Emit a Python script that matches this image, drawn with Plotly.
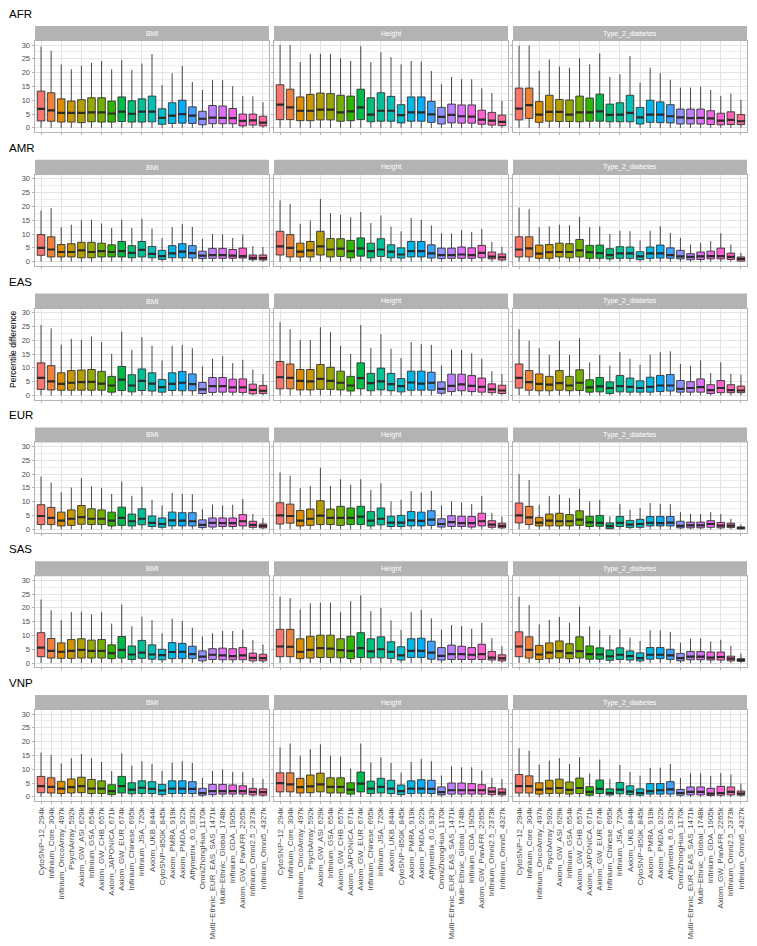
import math
import plotly.graph_objects as go

# array names along the x axis (same order in every panel)
ARRAYS = ["CytoSNP−12_294k", "Infinium_Core_304k", "Infinium_OncoArray_497k", "PsychArray_592k",
          "Axiom_GW_ASI_629k", "Infinium_GSA_654k", "Axiom_GW_CHB_657k", "Axiom_JAPONICA_671k",
          "Axiom_GW_EUR_674k", "Infinium_Chinese_695k", "Infinium_JSA_720k", "Axiom_UKB_844k",
          "CytoSNP−850K_845k", "Axiom_PMRA_919k", "Axiom_PMDA_922k", "Affymetrix_6.0_932k",
          "OmniZhongHua_1170k", "Multi−Ethnic_EUR_EAS_SAS_1471k", "Multi−Ethnic_Global_1748k",
          "Infinium_GDA_1905k", "Axiom_GW_PanAFR_2265k", "Infinium_Omni2.5_2373k", "Infinium_Omni5_4327k"]
ANCESTRIES = ["AFR", "AMR", "EAS", "EUR", "SAS", "VNP"]
TRAITS = ["BMI", "Height", "Type_2_diabetes"]

LOWER = [0.0, 0.0, 0.0, 0.0, 0.0, 0.0, 0.0, 0.0, 0.0, 0.0, 0.0, 0.0,
         0.0, 0.0, 0.0, 0.0, 0.0, 0.0, 0.0, 0.0, 0.0, 0.0, 0.0]

AFR_BMI = dict(
    q1=[2.5, 2.4, 2.1, 2.1, 1.9, 2.2, 2.1, 2.1, 2.3, 2.1, 2.1, 2.2, 1.3, 1.6, 1.7, 1.6, 1.1, 1.5, 1.5, 1.5, 0.7, 1.0, 0.7],
    med=[6.9, 6.3, 5.4, 5.4, 5.4, 5.6, 5.6, 5.2, 5.9, 5.1, 5.9, 5.9, 3.6, 4.4, 5.0, 4.4, 3.3, 3.7, 3.6, 3.5, 2.5, 2.7, 1.9],
    q3=[13.3, 12.7, 10.5, 9.7, 10.2, 10.9, 10.9, 9.7, 11.2, 9.8, 10.5, 11.5, 6.9, 9.1, 10.0, 7.6, 6.0, 8.1, 7.9, 7.0, 5.0, 5.0, 4.2],
    hi=[29.4, 27.9, 23.0, 21.2, 22.5, 23.5, 24.2, 21.2, 24.5, 21.0, 23.3, 26.7, 15.5, 19.8, 22.4, 16.6, 13.7, 17.3, 17.3, 15.1, 11.5, 11.4, 9.3])
AFR_HEIGHT = dict(
    q1=[3.0, 3.0, 2.6, 2.6, 2.9, 2.9, 2.4, 2.6, 3.0, 2.2, 2.4, 2.4, 1.8, 2.4, 2.4, 2.0, 1.4, 1.8, 1.7, 1.7, 1.3, 1.0, 0.8],
    med=[8.4, 7.4, 6.2, 6.2, 6.6, 6.6, 5.6, 6.0, 7.4, 4.8, 6.2, 6.2, 4.6, 5.6, 5.6, 4.9, 4.0, 4.7, 4.2, 4.1, 3.0, 2.6, 2.2],
    q3=[15.6, 14.0, 11.2, 12.1, 12.6, 12.4, 11.8, 11.5, 14.0, 10.9, 12.7, 11.4, 8.4, 11.2, 11.2, 9.6, 7.4, 8.6, 8.3, 8.3, 6.4, 5.6, 4.6],
    hi=[30.0, 30.0, 23.8, 26.8, 26.8, 26.8, 25.2, 24.2, 29.6, 23.8, 27.4, 25.6, 23.0, 24.2, 24.0, 20.6, 15.8, 18.4, 17.6, 17.6, 14.3, 12.6, 9.8])
AFR_T2D = dict(
    q1=[2.9, 3.4, 2.0, 2.4, 2.3, 2.3, 2.2, 2.4, 2.4, 2.2, 2.2, 2.2, 1.4, 2.0, 1.9, 1.8, 1.4, 1.4, 1.4, 1.2, 1.1, 1.2, 1.2],
    med=[7.0, 8.2, 4.8, 5.8, 5.8, 4.8, 5.6, 5.6, 6.0, 4.7, 4.8, 5.4, 3.8, 4.8, 4.8, 4.2, 3.8, 3.5, 3.6, 3.4, 2.6, 2.9, 2.4],
    q3=[14.4, 14.4, 9.5, 11.8, 10.3, 10.1, 11.5, 10.8, 12.2, 8.6, 9.1, 11.8, 7.4, 10.0, 9.4, 8.4, 6.8, 6.8, 6.8, 6.2, 5.3, 5.8, 4.8],
    hi=[29.8, 29.8, 20.6, 24.8, 22.2, 21.8, 25.2, 23.0, 27.0, 18.4, 19.4, 26.0, 16.4, 21.8, 19.8, 17.4, 14.6, 14.6, 14.9, 13.7, 11.6, 12.4, 10.2])

AMR_BMI = dict(
    q1=[2.3, 1.7, 1.7, 1.7, 1.4, 1.4, 1.7, 1.7, 1.7, 1.4, 1.7, 1.4, 0.8, 1.4, 1.4, 1.3, 1.1, 1.2, 1.2, 1.2, 1.3, 0.7, 0.6],
    med=[5.0, 4.4, 3.5, 3.5, 4.1, 3.5, 3.8, 3.5, 3.8, 3.2, 4.3, 2.8, 2.0, 3.0, 3.6, 3.1, 2.2, 2.4, 2.4, 2.2, 2.0, 1.4, 1.3],
    q3=[9.8, 9.0, 6.2, 6.5, 7.0, 7.0, 6.7, 6.1, 7.3, 5.8, 7.3, 5.5, 4.1, 5.8, 6.5, 5.8, 3.8, 4.8, 4.8, 4.4, 4.9, 2.4, 2.4],
    hi=[18.5, 19.4, 12.5, 13.4, 15.0, 15.2, 13.8, 12.2, 15.2, 12.2, 15.6, 12.0, 8.5, 12.5, 13.6, 12.6, 8.2, 10.0, 9.8, 8.6, 9.8, 5.6, 5.3])
AMR_HEIGHT = dict(
    q1=[2.4, 1.7, 1.7, 1.7, 2.4, 1.7, 1.9, 1.4, 2.0, 1.4, 1.9, 1.4, 1.3, 1.7, 1.7, 1.3, 1.1, 1.2, 1.2, 1.2, 1.4, 1.0, 0.6],
    med=[5.5, 5.0, 3.6, 4.1, 5.5, 4.4, 4.7, 3.8, 4.8, 3.8, 4.4, 3.6, 2.6, 3.8, 3.8, 3.0, 2.4, 2.4, 2.6, 2.4, 3.2, 1.8, 1.6],
    q3=[11.0, 9.8, 6.7, 7.3, 11.0, 8.4, 8.3, 7.7, 8.6, 6.7, 8.3, 6.1, 5.0, 7.3, 7.3, 6.1, 4.9, 4.9, 5.3, 5.0, 5.9, 3.5, 2.8],
    hi=[22.2, 20.9, 13.7, 14.9, 22.7, 17.6, 17.0, 16.1, 18.0, 14.0, 16.7, 12.7, 11.0, 15.8, 15.2, 13.1, 10.3, 10.2, 11.4, 10.8, 11.9, 7.2, 5.4])
AMR_T2D = dict(
    q1=[1.7, 1.7, 1.2, 1.2, 1.7, 1.4, 1.7, 1.2, 1.2, 1.0, 1.2, 1.2, 0.7, 1.2, 1.3, 1.2, 1.0, 0.7, 0.8, 1.0, 1.0, 0.8, 0.2],
    med=[4.4, 4.8, 2.9, 3.4, 3.5, 3.5, 4.1, 3.4, 3.1, 2.4, 3.0, 3.0, 1.9, 3.0, 3.0, 2.4, 1.9, 1.7, 1.9, 2.0, 2.0, 1.7, 1.0],
    q3=[9.0, 9.0, 6.0, 6.2, 6.7, 6.5, 8.0, 5.9, 6.0, 4.7, 5.4, 5.3, 3.6, 5.3, 6.0, 5.0, 4.1, 2.9, 3.5, 3.8, 4.9, 3.1, 1.7],
    hi=[19.6, 19.0, 12.5, 12.8, 13.4, 13.2, 16.2, 12.5, 12.8, 10.0, 11.2, 11.0, 7.7, 11.2, 12.8, 10.4, 8.6, 6.2, 6.8, 7.4, 10.3, 6.2, 3.2])

EAS_BMI = dict(
    q1=[2.2, 2.0, 1.9, 1.9, 1.9, 1.9, 1.9, 1.2, 1.8, 1.3, 1.8, 1.6, 1.2, 1.8, 1.7, 1.7, 0.7, 1.1, 1.2, 1.2, 1.1, 0.6, 0.7],
    med=[6.4, 5.1, 4.2, 4.6, 4.8, 4.9, 4.3, 3.6, 5.7, 3.6, 5.3, 4.3, 3.0, 4.2, 4.6, 4.1, 2.2, 3.4, 3.4, 2.9, 2.9, 2.0, 1.7],
    q3=[11.8, 10.8, 8.2, 9.0, 9.2, 9.4, 8.7, 6.9, 10.5, 7.5, 9.6, 8.2, 5.8, 8.2, 8.7, 7.8, 4.7, 6.5, 6.5, 5.9, 6.0, 4.1, 3.6],
    hi=[25.5, 24.3, 18.4, 20.5, 20.1, 21.3, 19.3, 15.1, 23.1, 16.5, 21.1, 18.0, 12.7, 18.0, 18.3, 17.1, 10.5, 13.3, 14.2, 11.7, 12.9, 9.4, 7.7])
EAS_HEIGHT = dict(
    q1=[2.4, 2.4, 2.0, 2.0, 2.2, 2.2, 2.0, 1.6, 2.4, 1.7, 2.0, 1.7, 1.3, 1.9, 1.9, 1.9, 0.8, 1.4, 1.7, 1.4, 1.2, 1.0, 0.7],
    med=[6.6, 6.4, 5.3, 5.1, 6.0, 5.3, 4.6, 3.6, 6.3, 4.5, 5.1, 4.1, 3.4, 4.7, 4.3, 4.6, 2.4, 3.5, 4.0, 3.5, 3.1, 2.2, 1.8],
    q3=[12.3, 11.4, 9.4, 9.4, 11.2, 10.2, 8.8, 6.9, 11.8, 8.0, 9.9, 8.0, 6.1, 8.8, 8.8, 8.4, 4.9, 7.7, 7.7, 7.2, 6.3, 4.2, 3.7],
    hi=[26.5, 24.0, 20.1, 20.1, 24.7, 22.9, 18.0, 15.1, 25.5, 17.2, 22.2, 16.9, 13.6, 19.3, 18.6, 18.3, 10.8, 16.6, 16.5, 15.3, 13.3, 8.8, 7.8])
EAS_T2D = dict(
    q1=[2.7, 1.9, 1.7, 1.7, 1.9, 1.7, 1.8, 1.2, 1.3, 0.7, 1.3, 1.2, 1.2, 1.2, 1.4, 1.6, 1.2, 1.2, 1.2, 0.7, 1.0, 1.0, 1.0],
    med=[6.4, 4.8, 4.2, 3.9, 4.5, 3.6, 4.6, 2.9, 3.3, 2.7, 3.4, 3.1, 2.7, 3.1, 3.6, 3.6, 2.4, 2.7, 3.0, 1.9, 2.7, 1.9, 1.8],
    q3=[11.4, 9.0, 7.8, 6.9, 9.0, 6.9, 9.3, 5.7, 6.5, 4.9, 7.2, 6.3, 5.3, 6.6, 7.2, 7.6, 5.4, 5.0, 6.0, 3.9, 5.4, 3.9, 3.4],
    hi=[24.0, 19.8, 17.1, 14.7, 19.8, 14.7, 20.7, 12.0, 14.7, 10.8, 15.7, 13.3, 11.1, 14.8, 15.7, 16.0, 11.4, 10.8, 12.7, 8.1, 12.0, 7.8, 7.5])

EUR_BMI = dict(
    q1=[1.7, 1.7, 1.2, 1.4, 1.8, 1.7, 1.7, 1.2, 1.4, 1.2, 1.6, 1.0, 0.7, 1.2, 1.2, 1.2, 0.6, 0.8, 1.0, 1.0, 1.2, 0.7, 0.5],
    med=[4.8, 4.1, 3.1, 3.8, 4.4, 3.8, 3.8, 3.1, 4.1, 2.9, 3.8, 2.3, 1.9, 3.2, 3.1, 2.9, 1.6, 2.3, 2.2, 2.2, 2.9, 1.6, 1.2],
    q3=[8.9, 7.9, 6.2, 7.0, 8.6, 7.4, 7.0, 6.2, 8.0, 5.5, 7.4, 4.8, 4.1, 6.2, 6.0, 6.0, 3.4, 4.1, 4.1, 4.1, 5.3, 2.9, 1.9],
    hi=[19.1, 16.9, 13.4, 15.1, 18.5, 15.5, 14.9, 12.8, 17.3, 12.1, 15.4, 10.7, 8.6, 13.2, 12.8, 12.7, 7.3, 8.9, 8.6, 8.9, 11.0, 5.5, 4.1])
EUR_HEIGHT = dict(
    q1=[1.9, 2.2, 1.2, 1.4, 1.7, 1.7, 1.4, 1.7, 1.7, 1.2, 1.6, 1.0, 1.0, 1.2, 1.2, 1.4, 0.8, 1.0, 1.0, 0.8, 1.2, 0.7, 0.5],
    med=[5.0, 4.8, 3.1, 3.8, 4.9, 4.1, 4.1, 4.1, 4.6, 3.1, 3.8, 2.4, 2.4, 3.2, 3.0, 3.5, 1.9, 2.6, 2.2, 2.2, 2.9, 1.7, 1.2],
    q3=[9.6, 9.1, 6.8, 7.3, 10.3, 7.3, 8.3, 7.7, 8.3, 6.4, 7.7, 4.7, 5.0, 6.4, 6.2, 6.7, 3.8, 4.9, 4.7, 4.6, 5.8, 3.1, 2.2],
    hi=[20.6, 19.4, 14.9, 15.7, 22.3, 15.7, 18.1, 16.1, 18.1, 14.2, 16.7, 10.1, 10.7, 13.8, 13.3, 13.9, 8.6, 10.1, 9.7, 9.1, 12.1, 5.9, 4.6])
EUR_T2D = dict(
    q1=[2.3, 1.7, 1.2, 1.2, 1.2, 1.2, 1.4, 1.0, 1.1, 0.2, 1.0, 0.6, 0.7, 1.2, 1.2, 1.2, 0.5, 0.5, 0.5, 0.7, 0.5, 0.6, 0.1],
    med=[5.0, 4.3, 2.4, 3.1, 2.9, 2.9, 3.5, 2.5, 2.3, 1.1, 2.3, 1.7, 1.9, 2.3, 2.2, 2.4, 1.2, 1.4, 1.4, 1.9, 1.3, 1.3, 0.5],
    q3=[9.5, 8.3, 4.3, 5.5, 5.8, 5.3, 6.7, 4.7, 5.0, 2.3, 4.6, 3.2, 3.6, 4.6, 4.6, 4.6, 2.9, 2.6, 2.6, 3.1, 2.5, 2.2, 0.8],
    hi=[20.0, 17.8, 8.9, 12.1, 12.5, 11.3, 14.6, 10.1, 10.6, 4.7, 9.1, 7.1, 7.7, 9.5, 9.2, 9.1, 6.2, 5.6, 5.5, 6.2, 5.5, 3.8, 1.7])

SAS_BMI = dict(
    q1=[2.3, 1.8, 1.7, 1.7, 1.8, 1.8, 1.8, 1.6, 1.8, 1.3, 1.7, 1.4, 1.2, 1.6, 1.6, 1.6, 0.8, 1.3, 1.2, 1.2, 1.2, 0.8, 0.8],
    med=[5.6, 4.4, 4.1, 4.4, 4.8, 4.4, 4.4, 3.6, 4.8, 3.1, 3.8, 3.1, 2.9, 4.0, 4.1, 3.2, 2.3, 3.0, 2.8, 2.5, 2.8, 1.9, 1.8],
    q3=[11.0, 8.9, 7.3, 8.5, 8.8, 8.3, 8.5, 6.6, 9.6, 6.2, 8.2, 6.6, 5.0, 7.4, 7.1, 6.1, 4.4, 5.2, 5.4, 5.2, 5.6, 3.6, 3.2],
    hi=[23.0, 19.1, 15.5, 18.5, 18.6, 17.6, 18.5, 14.3, 21.2, 13.3, 16.8, 15.5, 10.8, 16.1, 15.2, 12.8, 9.6, 10.8, 11.6, 11.6, 12.1, 8.3, 6.7])
SAS_HEIGHT = dict(
    q1=[2.3, 2.3, 1.6, 1.8, 2.0, 2.0, 1.9, 1.6, 2.0, 1.9, 1.9, 1.7, 1.1, 2.0, 2.0, 1.4, 1.1, 1.3, 1.3, 1.3, 1.3, 1.1, 0.8],
    med=[6.0, 5.9, 4.1, 4.8, 5.4, 5.2, 4.7, 4.4, 5.4, 4.2, 5.0, 4.1, 2.8, 4.4, 4.4, 3.8, 2.6, 3.2, 3.2, 3.0, 3.2, 2.0, 1.7],
    q3=[12.2, 12.2, 8.8, 9.7, 10.1, 10.1, 8.8, 9.7, 11.0, 8.8, 9.5, 7.7, 5.9, 8.8, 9.0, 7.9, 5.6, 6.5, 6.1, 5.6, 6.8, 4.2, 3.0],
    hi=[24.0, 23.5, 19.4, 21.6, 21.8, 21.8, 18.5, 22.4, 24.5, 18.8, 20.0, 15.5, 12.0, 18.4, 19.2, 16.2, 12.1, 13.8, 13.4, 12.4, 14.6, 9.0, 6.1])
SAS_T2D = dict(
    q1=[2.3, 1.8, 1.3, 1.6, 1.8, 1.6, 1.8, 1.4, 1.4, 1.0, 1.3, 1.1, 0.8, 1.4, 1.6, 1.3, 0.8, 1.2, 1.2, 1.1, 1.1, 0.8, 0.6],
    med=[6.0, 4.8, 3.1, 3.8, 4.3, 3.6, 4.3, 3.2, 3.1, 2.4, 3.0, 2.5, 1.8, 3.0, 3.0, 2.8, 1.8, 2.3, 2.3, 2.0, 2.2, 1.6, 1.1],
    q3=[11.3, 9.5, 6.4, 7.3, 8.0, 7.0, 9.5, 6.2, 5.5, 4.7, 5.5, 4.4, 3.7, 5.6, 5.6, 5.0, 3.5, 4.2, 4.2, 4.0, 4.0, 2.5, 1.6],
    hi=[24.0, 21.0, 14.0, 15.6, 16.7, 14.6, 20.4, 13.3, 12.0, 10.1, 12.2, 9.2, 8.0, 11.9, 11.9, 11.3, 7.4, 8.8, 8.9, 7.8, 8.4, 6.2, 3.5])

VNP_BMI = dict(
    q1=[1.5, 1.4, 1.2, 1.4, 1.5, 1.2, 1.2, 0.8, 1.4, 1.1, 1.2, 1.2, 0.8, 1.2, 1.2, 1.2, 0.6, 0.8, 1.0, 1.0, 1.0, 0.7, 0.6],
    med=[3.9, 3.6, 3.0, 3.5, 3.9, 3.0, 3.0, 2.1, 3.9, 2.6, 3.3, 2.9, 2.3, 3.0, 3.0, 2.9, 1.4, 2.1, 2.1, 2.1, 2.1, 1.8, 1.7],
    q3=[7.4, 6.9, 5.6, 6.5, 7.1, 6.3, 5.8, 4.4, 7.4, 5.1, 5.8, 5.5, 4.5, 5.8, 5.8, 5.5, 3.1, 4.5, 4.5, 4.3, 4.0, 3.1, 2.9],
    hi=[16.0, 15.2, 12.1, 14.0, 15.5, 14.0, 12.7, 9.3, 15.8, 11.3, 12.9, 11.9, 9.4, 12.4, 12.9, 12.3, 6.9, 9.3, 9.9, 9.0, 8.9, 6.9, 6.5])
VNP_HEIGHT = dict(
    q1=[1.8, 1.8, 1.4, 1.5, 1.8, 1.4, 1.4, 1.0, 1.8, 1.2, 1.4, 1.2, 0.8, 1.2, 1.3, 1.2, 0.7, 1.0, 1.0, 1.0, 1.0, 0.8, 0.7],
    med=[5.0, 4.5, 3.5, 3.8, 4.5, 3.6, 3.6, 2.6, 4.8, 3.0, 3.6, 3.0, 2.1, 3.0, 3.0, 2.9, 1.7, 2.4, 2.4, 2.4, 2.4, 1.9, 1.5],
    q3=[8.7, 8.7, 6.7, 7.9, 8.6, 6.9, 6.9, 5.1, 9.0, 5.7, 6.7, 6.0, 4.3, 5.8, 6.2, 6.0, 3.6, 5.0, 5.0, 4.8, 4.4, 3.3, 2.9],
    hi=[17.9, 19.3, 14.9, 17.3, 19.0, 14.9, 14.6, 10.2, 19.3, 12.5, 14.3, 12.3, 8.8, 12.7, 13.7, 12.9, 7.7, 11.0, 10.7, 10.7, 9.5, 6.9, 6.5])
VNP_T2D = dict(
    q1=[1.4, 1.4, 1.0, 1.2, 1.3, 1.0, 1.2, 0.6, 1.2, 0.7, 1.1, 0.8, 0.6, 1.0, 1.0, 1.0, 0.6, 0.7, 0.7, 0.5, 0.6, 0.7, 0.6],
    med=[3.9, 3.9, 2.6, 3.0, 3.2, 2.5, 3.2, 1.8, 2.9, 1.4, 2.6, 1.9, 1.4, 2.1, 2.4, 2.7, 1.4, 1.8, 1.8, 1.2, 1.4, 1.8, 1.2],
    q3=[8.1, 7.6, 5.1, 6.0, 6.4, 5.4, 6.8, 3.7, 6.1, 2.9, 5.2, 4.0, 2.9, 4.8, 4.8, 5.5, 2.7, 3.6, 3.6, 3.1, 3.8, 3.6, 2.1],
    hi=[17.6, 16.7, 11.7, 13.1, 14.0, 11.9, 14.3, 8.5, 13.5, 6.5, 11.5, 9.0, 7.7, 10.5, 10.6, 11.9, 6.9, 8.6, 8.6, 7.6, 8.6, 8.1, 4.8])

PANELS = [
    [AFR_BMI, AFR_HEIGHT, AFR_T2D],
    [AMR_BMI, AMR_HEIGHT, AMR_T2D],
    [EAS_BMI, EAS_HEIGHT, EAS_T2D],
    [EUR_BMI, EUR_HEIGHT, EUR_T2D],
    [SAS_BMI, SAS_HEIGHT, SAS_T2D],
    [VNP_BMI, VNP_HEIGHT, VNP_T2D],
]


def hue_pal(n, c=100.0, l=65.0):
    # ggplot2 default discrete palette (HCL hues)
    out = []
    Xn, Yn, Zn = 95.047, 100.0, 108.883
    un = 4 * Xn / (Xn + 15 * Yn + 3 * Zn)
    vn = 9 * Yn / (Xn + 15 * Yn + 3 * Zn)
    for i in range(n):
        h = math.radians(15 + 360.0 * i / n)
        u, v = c * math.cos(h), c * math.sin(h)
        Y = Yn * ((l + 16) / 116) ** 3
        up = u / (13 * l) + un
        vp = v / (13 * l) + vn
        X = 9 * Y * up / (4 * vp)
        Z = -X / 3 - 5 * Y + 3 * Y / vp
        X, Y, Z = X / 100, Y / 100, Z / 100
        rgb = [3.240479 * X - 1.537150 * Y - 0.498535 * Z,
               -0.969256 * X + 1.875992 * Y + 0.041556 * Z,
               0.055648 * X - 0.204043 * Y + 1.057311 * Z]
        vals = []
        for ch in rgb:
            ch = 12.92 * ch if ch <= 0.0031308 else 1.055 * ch ** (1 / 2.4) - 0.055
            vals.append(int(round(max(0, min(1, ch)) * 255)))
        out.append("#%02X%02X%02X" % tuple(vals))
    return out


COLORS = hue_pal(len(ARRAYS))

W, H = 757, 946
LEFT, RIGHT, GAP = 35, 747, 5
PW = (RIGHT - LEFT - 2 * GAP) / 3
ROW_STEP, PANEL_TOP, PANEL_H, STRIP_H = 133.8, 41, 91, 15


def px_x(p):
    return p / W


def px_y(p):
    return 1 - p / H


fig = go.Figure()
layout = dict(width=W, height=H, margin=dict(l=0, r=0, t=0, b=0),
              plot_bgcolor="white", paper_bgcolor="white", boxmode="overlay",
              showlegend=False, font=dict(family="Liberation Sans, Arial", color="#4D4D4D"))
shapes, annotations = [], []

for r, anc in enumerate(ANCESTRIES):
    top = PANEL_TOP + r * ROW_STEP
    annotations.append(dict(text=anc, x=px_x(7), y=px_y(top - STRIP_H - 12), xref="paper", yref="paper",
                            xanchor="left", yanchor="middle", showarrow=False,
                            font=dict(size=11.5, color="black")))
    for c, trait in enumerate(TRAITS):
        k = r * 3 + c + 1
        x0 = LEFT + c * (PW + GAP)
        x1 = x0 + PW
        d = PANELS[r][c]
        for i, name in enumerate(ARRAYS):
            fig.add_trace(go.Box(
                x=[name], q1=[d["q1"][i]], median=[d["med"][i]], q3=[d["q3"][i]],
                lowerfence=[LOWER[i]], upperfence=[d["hi"][i]],
                fillcolor=COLORS[i], line=dict(color="#333333", width=0.9),
                width=0.75, whiskerwidth=0, boxpoints=False, name=name,
                xaxis="x%d" % k, yaxis="y%d" % k, showlegend=False))
        # thick median bars drawn on top
        fig.add_trace(go.Box(
            x=ARRAYS, q1=d["med"], median=d["med"], q3=d["med"],
            lowerfence=d["med"], upperfence=d["med"],
            fillcolor="rgba(0,0,0,0)", line=dict(color="#2B2B2B", width=2.2),
            width=0.75, whiskerwidth=0, boxpoints=False, hoverinfo="skip",
            xaxis="x%d" % k, yaxis="y%d" % k, showlegend=False))
        layout["xaxis%d" % k] = dict(
            domain=[px_x(x0), px_x(x1)], anchor="y%d" % k, type="category",
            categoryorder="array", categoryarray=ARRAYS, range=[-0.6, len(ARRAYS) - 0.4],
            showgrid=True, gridcolor="#E3E3E3", gridwidth=0.6, zeroline=False,
            showline=True, mirror=True, linecolor="#B3B3B3", linewidth=1,
            ticks="outside", ticklen=2, tickcolor="#B3B3B3", tickwidth=0.6,
            showticklabels=(r == len(ANCESTRIES) - 1), tickangle=-90,
            tickfont=dict(size=8, color="#4D4D4D"), automargin=False)
        layout["yaxis%d" % k] = dict(
            domain=[px_y(top + PANEL_H), px_y(top)], anchor="x%d" % k,
            range=[-1.5, 31.45], tick0=0, dtick=5,
            showgrid=True, gridcolor="#E3E3E3", gridwidth=0.6, zeroline=False,
            minor=dict(tick0=2.5, dtick=5, showgrid=True, gridcolor="#EDEDED", gridwidth=0.4),
            showline=True, mirror=True, linecolor="#B3B3B3", linewidth=1,
            ticks="outside", ticklen=2.5, tickcolor="#B3B3B3", tickwidth=0.6,
            showticklabels=(c == 0), tickfont=dict(size=7.5, color="#4D4D4D"), automargin=False)
        # facet strip
        shapes.append(dict(type="rect", xref="paper", yref="paper",
                           x0=px_x(x0), x1=px_x(x1), y0=px_y(top), y1=px_y(top - STRIP_H),
                           fillcolor="#B3B3B3", line=dict(width=0), layer="below"))
        annotations.append(dict(text=trait, x=px_x((x0 + x1) / 2), y=px_y(top - STRIP_H / 2),
                                xref="paper", yref="paper", showarrow=False,
                                xanchor="center", yanchor="middle",
                                font=dict(size=7, color="white")))

annotations.append(dict(text="Percentile difference", x=px_x(13), y=px_y(349),
                        xref="paper", yref="paper", showarrow=False, textangle=-90,
                        xanchor="center", yanchor="middle", font=dict(size=8.5, color="black")))

layout["shapes"] = shapes
layout["annotations"] = annotations
fig.update_layout(**layout)
fig.write_html("out.html", config={"displayModeBar": False},
               post_script="document.body.style.margin='0';")
